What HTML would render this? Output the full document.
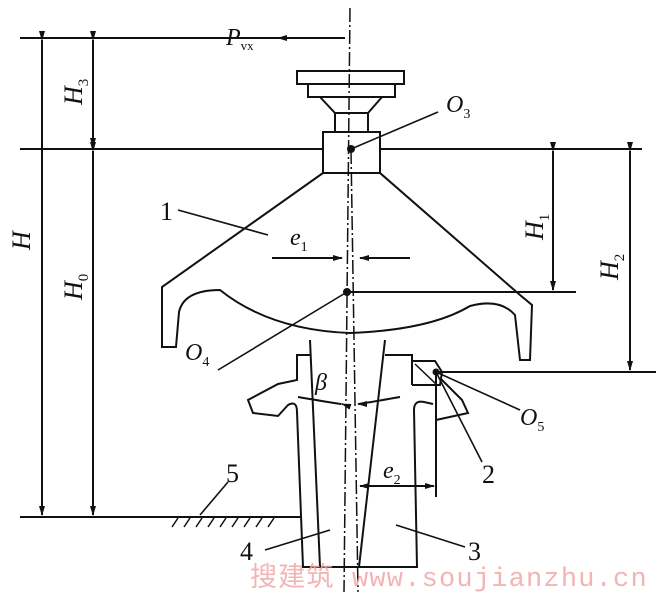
<!DOCTYPE html>
<html><head><meta charset="utf-8"><style>
html,body{margin:0;padding:0;background:#fff}
svg{display:block}
text{font-family:"Liberation Serif",serif;font-style:italic;fill:#111}
.n{font-style:normal}
</style></head><body>
<svg width="659" height="600" viewBox="0 0 659 600" xmlns="http://www.w3.org/2000/svg">
<defs><marker id="a" markerWidth="10" markerHeight="6" refX="9" refY="3" orient="auto" markerUnits="userSpaceOnUse"><path d="M0,0L10,3L0,6z" fill="#111"/></marker></defs>
<g stroke="#111" stroke-width="2" fill="none">
<line x1="20" y1="38" x2="345" y2="38"/>
<line x1="20" y1="149" x2="323" y2="149"/>
<line x1="380" y1="149" x2="642" y2="149"/>
<line x1="347" y1="292" x2="576" y2="292"/>
<line x1="436" y1="372" x2="656" y2="372"/>
<line x1="20" y1="517" x2="302" y2="517"/>
<line x1="42" y1="40" x2="42" y2="515" marker-start="url(#a)" marker-end="url(#a)"/>
<line x1="93" y1="40" x2="93" y2="147" marker-start="url(#a)" marker-end="url(#a)"/>
<line x1="93" y1="151" x2="93" y2="515" marker-start="url(#a)" marker-end="url(#a)"/>
<line x1="553" y1="151" x2="553" y2="290" marker-start="url(#a)" marker-end="url(#a)"/>
<line x1="630" y1="151" x2="630" y2="370" marker-start="url(#a)" marker-end="url(#a)"/>
<line x1="345" y1="38" x2="278" y2="38" marker-end="url(#a)"/>
<rect x="297" y="71" width="107" height="13"/>
<rect x="308" y="84" width="87" height="13"/>
<path d="M320,97L335,113L368,113L382,97"/>
<rect x="335" y="113" width="33" height="19"/>
<rect x="323" y="132" width="57" height="41"/>
<path d="M323,173L162,287L162,347L176,347L179,312Q184,290 220,290Q270,330 350,333Q430,330 470,306Q500,298 515,315L520,360L530,360L532,305L520,295L380,173"/>
<path d="M310,340L320,567"/>
<path d="M385,340L359,567"/>
<path d="M310,355L297,355L297,380L278,384L248,400L253,413L278,416L288,405Q297,400 297,412L303,567L417,567L414,410Q414,400 424,402L433,404"/>
<path d="M385,355L412,355L412,385"/>
<path d="M412,361L435,361L442,372L440,385L412,385"/>
<path d="M415,364L436,384" stroke-width="1.5"/>
<path d="M440,378L462,400L468,413L436,420L436,407"/>
<line x1="436" y1="372" x2="436" y2="497"/>
<line x1="360" y1="486" x2="434" y2="486" marker-end="url(#a)"/>
<line x1="390" y1="486" x2="360" y2="486" marker-end="url(#a)"/>
<line x1="272" y1="258" x2="342" y2="258" marker-end="url(#a)"/>
<line x1="410" y1="258" x2="360" y2="258" marker-end="url(#a)"/>
<path d="M298,397Q345,405 342,404" marker-end="url(#a)"/>
<path d="M400,397Q360,404 358,404" marker-end="url(#a)"/>
<line x1="351" y1="149" x2="438" y2="112" stroke-width="1.6"/>
<line x1="178" y1="210" x2="268" y2="235" stroke-width="1.6"/>
<line x1="347" y1="292" x2="218" y2="370" stroke-width="1.6"/>
<line x1="436" y1="372" x2="520" y2="410" stroke-width="1.6"/>
<line x1="436" y1="372" x2="482" y2="462" stroke-width="1.6"/>
<line x1="200" y1="515" x2="228" y2="482" stroke-width="1.6"/>
<line x1="265" y1="550" x2="330" y2="530" stroke-width="1.6"/>
<line x1="396" y1="525" x2="465" y2="547" stroke-width="1.6"/>
<line x1="170" y1="517" x2="280" y2="517"/>
<g stroke-width="1.5"><line x1="178" y1="518" x2="172" y2="527"/><line x1="190" y1="518" x2="184" y2="527"/><line x1="202" y1="518" x2="196" y2="527"/><line x1="214" y1="518" x2="208" y2="527"/><line x1="226" y1="518" x2="220" y2="527"/><line x1="238" y1="518" x2="232" y2="527"/><line x1="250" y1="518" x2="244" y2="527"/><line x1="262" y1="518" x2="256" y2="527"/><line x1="274" y1="518" x2="268" y2="527"/></g>
<line x1="350" y1="8" x2="344" y2="592" stroke-width="1.5" stroke-dasharray="14,3,2,3"/>
<line x1="351" y1="150" x2="358" y2="592" stroke-width="1.5" stroke-dasharray="14,3,2,3"/>
</g>
<circle cx="351" cy="149" r="4" fill="#111"/>
<circle cx="347" cy="292" r="4" fill="#111"/>
<circle cx="436" cy="372" r="3.5" fill="#111"/>
<text x="226" y="45" font-size="24">P<tspan font-size="13" dy="5" font-style="normal">vx</tspan></text>
<text x="446" y="112" font-size="24">O<tspan font-size="14" dy="6" class="n">3</tspan></text>
<text x="185" y="360" font-size="24">O<tspan font-size="14" dy="6" class="n">4</tspan></text>
<text x="520" y="425" font-size="24">O<tspan font-size="14" dy="6" class="n">5</tspan></text>
<text x="290" y="245" font-size="24">e<tspan font-size="14" dy="6" class="n">1</tspan></text>
<text x="383" y="478" font-size="24">e<tspan font-size="14" dy="6" class="n">2</tspan></text>
<text x="315" y="390" font-size="24">β</text>
<text x="160" y="220" font-size="26" class="n">1</text>
<text x="482" y="483" font-size="26" class="n">2</text>
<text x="468" y="560" font-size="26" class="n">3</text>
<text x="240" y="560" font-size="26" class="n">4</text>
<text x="226" y="482" font-size="26" class="n">5</text>
<text transform="translate(30,250) rotate(-90)" font-size="26">H</text>
<text transform="translate(82,300) rotate(-90)" font-size="26">H<tspan font-size="15" dy="6" class="n">0</tspan></text>
<text transform="translate(82,105) rotate(-90)" font-size="26">H<tspan font-size="15" dy="6" class="n">3</tspan></text>
<text transform="translate(543,240) rotate(-90)" font-size="26">H<tspan font-size="15" dy="6" class="n">1</tspan></text>
<text transform="translate(618,280) rotate(-90)" font-size="26">H<tspan font-size="15" dy="6" class="n">2</tspan></text>
<text x="250" y="586" font-size="27" class="n" letter-spacing="1.2" style="font-family:'Liberation Mono','Noto Sans CJK SC',monospace;fill:#f2a7a7" opacity="0.85">搜建筑 www.soujianzhu.cn</text>
</svg>
</body></html>
